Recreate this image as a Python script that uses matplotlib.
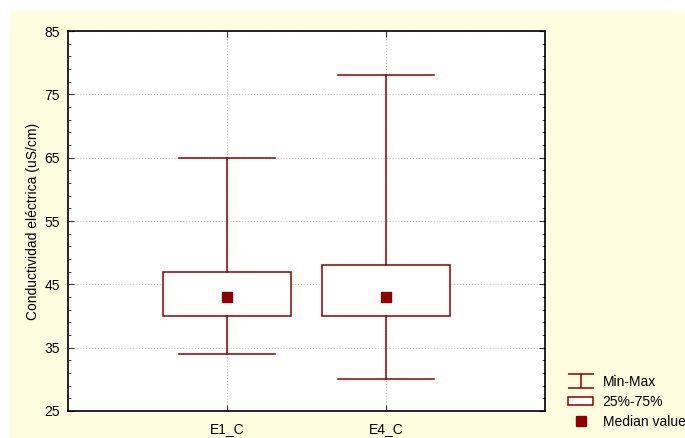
import numpy as np
import matplotlib.pyplot as plt
from matplotlib.lines import Line2D
from matplotlib.patches import Patch, Rectangle
from matplotlib.path import Path

plt.rcParams['font.family'] = ['Liberation Sans', 'DejaVu Sans']

# data
categories = ['E1_C', 'E4_C']
mins = [34, 30]
q1 = [40, 40]
medians = [43, 43]
q3 = [47, 48]
maxs = [65, 78]

red = '#8b0000'
cream = '#fffde0'
fs = 10

fig = plt.figure(figsize=(6.85, 4.38), dpi=100, facecolor='white')
fig.patches.append(Rectangle((10/685, 0), 1, 1 - 11/438, transform=fig.transFigure,
                             facecolor=cream, edgecolor='none', zorder=-10))
ax = fig.add_axes([68/685, 27/438, 477/685, 380/438])
ax.set_facecolor('white')

stats = []
for i in range(len(categories)):
    stats.append({'med': medians[i], 'q1': q1[i], 'q3': q3[i],
                  'whislo': mins[i], 'whishi': maxs[i], 'label': categories[i]})

pos = np.arange(1, len(categories) + 1)
ax.bxp(stats, positions=pos, widths=0.8, capwidths=0.6, showfliers=False,
       patch_artist=True,
       boxprops=dict(facecolor='white', edgecolor=red, linewidth=1.1),
       whiskerprops=dict(color=red, linewidth=1.1),
       capprops=dict(color=red, linewidth=1.1),
       medianprops=dict(linewidth=0), zorder=3)
ax.scatter(pos, medians, marker='s', s=55, color=red, zorder=4)

ax.set_xlim(0, 3)
ax.set_ylim(25, 85)
ax.set_xticks(pos)
ax.set_xticklabels(categories)
ax.set_yticks(np.arange(25, 86, 10))
ax.set_yticks(np.arange(25, 86, 2), minor=True)
ax.grid(True, which='major', linestyle=':', color='#bdbdbd', linewidth=0.8, zorder=0)
ax.tick_params(which='both', direction='in', top=True, right=True, labelsize=fs,
               color='#333333')
ax.tick_params(which='major', length=4, pad=6)
ax.tick_params(which='minor', length=2.5)
ax.tick_params(axis='x', which='minor', bottom=False, top=False)
ax.tick_params(axis='x', pad=8)
for s in ax.spines.values():
    s.set_linewidth(1.2)
    s.set_color('black')
ax.set_ylabel('Conductividad eléctrica (uS/cm)', fontsize=fs, labelpad=3)

# legend
minmax = Path([(-1, 0.5), (1, 0.5), (0, 0.5), (0, -0.5), (-1, -0.5), (1, -0.5)],
              [Path.MOVETO, Path.LINETO, Path.MOVETO, Path.LINETO, Path.MOVETO, Path.LINETO])
handles = [
    Line2D([], [], marker=minmax, markersize=19, linestyle='none',
           markeredgecolor=red, markerfacecolor='none', markeredgewidth=1.1),
    Patch(facecolor='white', edgecolor=red, linewidth=1.1),
    Line2D([], [], marker='s', markersize=7, linestyle='none', color=red),
]
labels = ['Min-Max', '25%-75%', 'Median value']
fig.legend(handles, labels, loc='upper left', bbox_to_anchor=(568/685, 1 - 375/438),
           frameon=False, fontsize=fs, handlelength=1.8, handleheight=0.6,
           handletextpad=0.7, labelspacing=0.42, borderpad=0, borderaxespad=0)

fig.savefig('out.png', dpi=100, facecolor=fig.get_facecolor())
